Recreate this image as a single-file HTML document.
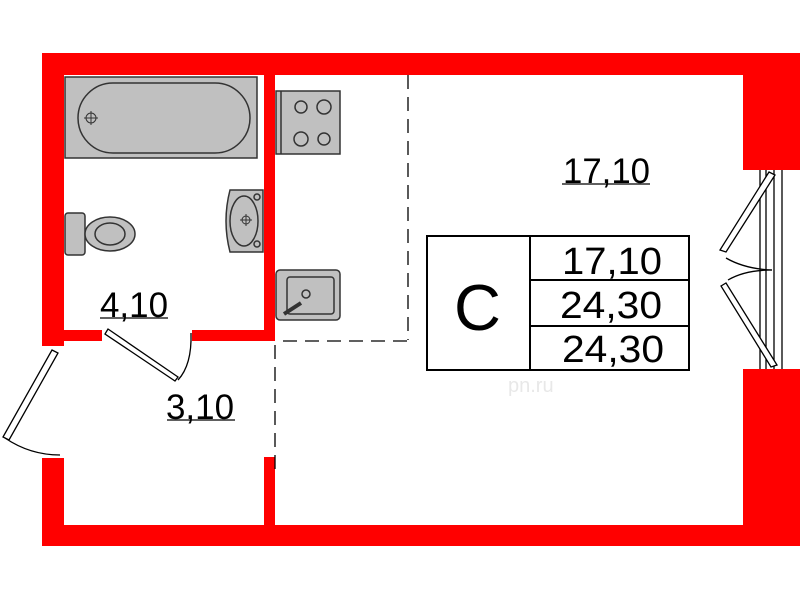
<!DOCTYPE html>
<html><head><style>
body{margin:0;background:#fff;width:800px;height:600px;overflow:hidden}
svg text{font-family:"Liberation Sans",sans-serif;fill:#000}
</style></head><body>
<svg width="800" height="600" viewBox="0 0 800 600" xmlns="http://www.w3.org/2000/svg">
<g fill="#ff0000">
<rect x="42" y="53" width="701" height="22"/>
<rect x="743" y="53" width="57" height="117"/>
<rect x="743" y="369" width="57" height="177"/>
<rect x="42" y="525" width="701" height="21"/>
<rect x="42" y="53" width="22" height="293"/>
<rect x="42" y="458" width="22" height="88"/>
<rect x="264" y="75" width="11" height="266"/>
<rect x="264" y="457" width="11" height="68"/>
<rect x="64" y="330" width="38" height="11"/>
<rect x="192" y="330" width="83" height="11"/>
</g>
<g stroke="#000" fill="none" stroke-width="1.3">
<line x1="760" y1="170" x2="760" y2="369"/>
<line x1="766" y1="170" x2="766" y2="369"/>
<line x1="774" y1="170" x2="774" y2="369"/>
<line x1="782" y1="170" x2="782" y2="369"/>
<polygon points="769,172 775,175 726,252 720,250" fill="#fff"/>
<polygon points="721,286 726,283 777,365 771,367" fill="#fff"/>
<path d="M726,258 Q745,269 772,270"/>
<path d="M728,280 Q745,270 772,270"/>
<g stroke-dasharray="14,8">
<line x1="408" y1="75" x2="408" y2="340"/>
<line x1="283" y1="341" x2="408" y2="341"/>
<line x1="275" y1="345" x2="275" y2="470"/>
</g>
<polygon points="105,334 108,329 178,377 175,381" fill="#fff"/>
<path d="M178,380 Q192,365 191,333"/>
<polygon points="52,350 58,353 9,440 3,437" fill="#fff"/>
<path d="M5,438 Q30,455 60,455"/>
<rect x="427" y="236" width="262" height="134" stroke-width="2"/>
<line x1="530" y1="236" x2="530" y2="370" stroke-width="2"/>
<line x1="530" y1="280" x2="689" y2="280" stroke-width="2"/>
<line x1="530" y1="326" x2="689" y2="326" stroke-width="2"/>
<line x1="562" y1="184" x2="650" y2="184"/>
<line x1="100" y1="318" x2="168" y2="318"/>
<line x1="167" y1="420" x2="235" y2="420"/>
</g>
<g stroke="#333" stroke-width="1.5" fill="#c0c0c0">
<rect x="65" y="77" width="192" height="81"/>
<rect x="78" y="83" width="172" height="70" rx="35" fill="#c0c0c0"/>
<rect x="276" y="91" width="64" height="63"/>
<line x1="281" y1="91" x2="281" y2="154"/>
<circle cx="301" cy="107" r="6"/><circle cx="324" cy="107" r="7"/>
<circle cx="301" cy="139" r="7"/><circle cx="324" cy="139" r="6"/>
<rect x="276" y="270" width="64" height="50" rx="4"/>
<rect x="287" y="277" width="47" height="37" rx="3"/>
<circle cx="306" cy="294" r="4"/>
<line x1="284" y1="314" x2="301" y2="303" stroke-width="4"/>
<rect x="65" y="213" width="20" height="42" rx="3"/>
<ellipse cx="110" cy="234" rx="25" ry="17"/>
<ellipse cx="110" cy="234" rx="15" ry="11"/>
<path d="M230,190 L263,190 L263,252 L230,252 Q222,221 230,190Z"/>
<ellipse cx="244" cy="221" rx="14" ry="25"/>
<circle cx="257" cy="197" r="3"/><circle cx="257" cy="244" r="3"/>
</g>
<g stroke="#333" fill="none"><circle cx="91" cy="118" r="5"/><line x1="84" y1="118" x2="98" y2="118"/><line x1="91" y1="111" x2="91" y2="125"/>
<circle cx="246" cy="220" r="4"/><line x1="240" y1="220" x2="252" y2="220"/><line x1="246" y1="214" x2="246" y2="226"/></g>
<text x="563" y="183" font-size="35" textLength="87" lengthAdjust="spacingAndGlyphs">17,10</text>
<text x="100" y="317" font-size="35" textLength="68" lengthAdjust="spacingAndGlyphs">4,10</text>
<text x="166" y="419" font-size="35" textLength="68" lengthAdjust="spacingAndGlyphs">3,10</text>
<text x="454" y="330" font-size="65">C</text>
<text x="562" y="274" font-size="38" textLength="100" lengthAdjust="spacingAndGlyphs">17,10</text>
<text x="560" y="318" font-size="38" textLength="102" lengthAdjust="spacingAndGlyphs">24,30</text>
<text x="562" y="362" font-size="38" textLength="102" lengthAdjust="spacingAndGlyphs">24,30</text>
<text x="508" y="392" font-size="20" style="fill:#e8e8e8">pn.ru</text>
</svg>
</body></html>
